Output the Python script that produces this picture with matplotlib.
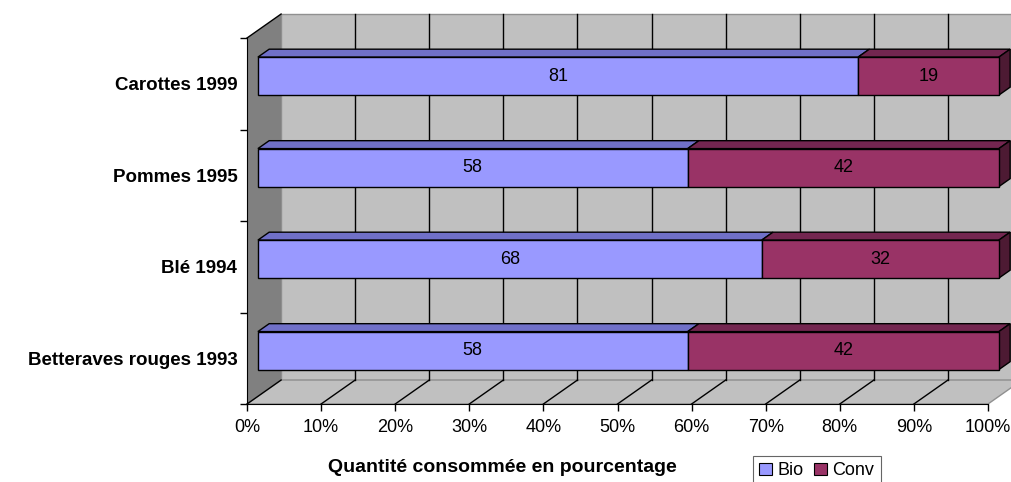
import matplotlib.pyplot as plt
from matplotlib.patches import Polygon, Patch

plt.rcParams['font.family'] = ['Liberation Sans', 'DejaVu Sans']

categories = ["Betteraves rouges 1993", "Blé 1994", "Pommes 1995", "Carottes 1999"]
bio = [58, 68, 58, 81]
conv = [42, 32, 42, 19]
series_names = ["Bio", "Conv"]
x_ticks = list(range(0, 101, 10))
x_tick_labels = ["{}%".format(t) for t in x_ticks]

# colours for front / top / side faces of each series
faces = {
    "Bio": ("#9999FF", "#7070C8", "#5050A0"),
    "Conv": ("#993366", "#732650", "#4D1A33"),
}

# 3D depth offset of the plot box, in data units (percent, category)
DX = 4.6
DY = 0.262
Z0, Z1 = 0.32, 0.65      # bar depth (fraction of full depth)
BAR_H = 0.415            # bar thickness in category units


def proj(x, y, z):
    return (x + z * DX, y + z * DY)


fig = plt.figure(figsize=(10.11, 4.82), dpi=100)
W, H = 1011, 482
ax = fig.add_axes([247 / W, (H - 404) / H, 741 / W, 366 / H])
ax.set_xlim(0, 100)
ax.set_ylim(0, len(categories))
ax.patch.set_visible(False)


def poly(pts, fc, ec="black", lw=1.0, z=1):
    ax.add_patch(Polygon(pts, closed=True, facecolor=fc, edgecolor=ec,
                         linewidth=lw, zorder=z, clip_on=False, joinstyle="miter"))


n = len(categories)
# walls and floor
poly([proj(0, 0, 1), proj(100, 0, 1), proj(100, n, 1), proj(0, n, 1)], "#C0C0C0", ec="#909090", z=0.2)
poly([proj(0, 0, 0), proj(0, 0, 1), proj(0, n, 1), proj(0, n, 0)], "#808080", ec="none", z=0.3)
poly([proj(0, 0, 0), proj(100, 0, 0), proj(100, 0, 1), proj(0, 0, 1)], "#C0C0C0", ec="#909090", z=0.3)
ax.plot(*zip(proj(0, n, 0), proj(0, n, 1)), color="black", lw=1, zorder=0.4, clip_on=False)
ax.plot(*zip(proj(0, 0, 0), proj(0, 0, 1)), color="black", lw=1, zorder=0.4, clip_on=False)

# gridlines on back wall and floor
for t in x_ticks[1:]:
    ax.plot(*zip(proj(t, 0, 1), proj(t, n, 1)), color="black", lw=1, zorder=0.4, clip_on=False)
    if t < 100:
        ax.plot(*zip(proj(t, 0, 0), proj(t, 0, 1)), color="black", lw=1, zorder=0.4, clip_on=False)

# stacked 3D bars
for i in range(n):
    y0 = i + 0.5 - BAR_H / 2
    y1 = i + 0.5 + BAR_H / 2
    left = 0
    segs = [("Bio", bio[i]), ("Conv", conv[i])]
    for k, (name, val) in enumerate(segs):
        right = left + val
        front, top, side = faces[name]
        poly([proj(left, y1, Z0), proj(right, y1, Z0), proj(right, y1, Z1), proj(left, y1, Z1)], top, z=2)
        poly([proj(left, y0, Z0), proj(right, y0, Z0), proj(right, y1, Z0), proj(left, y1, Z0)], front, z=2.1)
        if k == len(segs) - 1:
            poly([proj(right, y0, Z0), proj(right, y0, Z1), proj(right, y1, Z1), proj(right, y1, Z0)], side, z=2)
        cx, cy = proj((left + right) / 2, i + 0.5, Z0)
        ax.text(cx, cy, str(val), ha="center", va="center", fontsize=13, zorder=3)
        left = right

# axes
for s in ["top", "right"]:
    ax.spines[s].set_visible(False)
ax.spines["left"].set_zorder(0.6)
ax.spines["bottom"].set_zorder(0.6)
ax.set_xticks(x_ticks)
ax.set_xticklabels(x_tick_labels, fontsize=13)
ax.tick_params(axis="x", direction="out", length=5, width=1, pad=6)
ax.set_yticks(range(n + 1))
ax.set_yticklabels([])
ax.tick_params(axis="y", which="major", direction="out", length=5, width=1)
ax.set_yticks([i + 0.5 for i in range(n)], minor=True)
ax.set_yticklabels(categories, minor=True, fontsize=13.5, fontweight="bold")
ax.tick_params(axis="y", which="minor", length=0, pad=7)

fig.text(502 / W, 1 - 467 / H, "Quantité consommée en pourcentage", ha="center", va="center",
         fontsize=14, fontweight="bold")

handles = [Patch(facecolor=faces[nm][0], edgecolor="black", linewidth=0.8, label=nm) for nm in series_names]
leg = fig.legend(handles=handles, loc="upper left", bbox_to_anchor=(753 / W, 1 - 456 / H), ncol=2,
                 fontsize=13, frameon=True, fancybox=False, edgecolor="#404040", borderaxespad=0,
                 handlelength=0.7, handleheight=0.7, handletextpad=0.3, columnspacing=0.6,
                 borderpad=0.35)
leg.get_frame().set_linewidth(0.8)

fig.savefig("out.png", dpi=100)
